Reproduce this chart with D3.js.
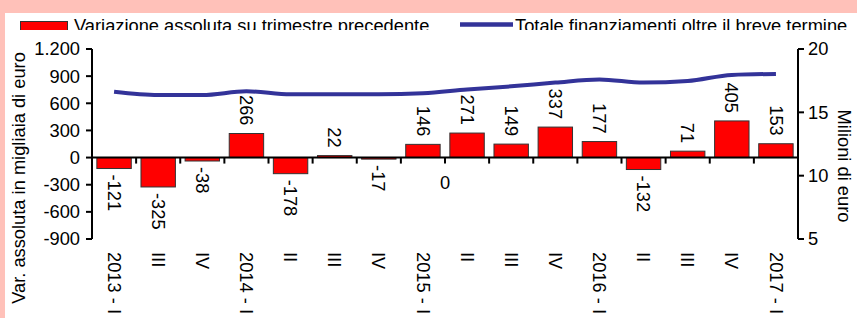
<!DOCTYPE html>
<html><head><meta charset="utf-8">
<script src="https://cdn.jsdelivr.net/npm/d3@7"></script>
<style>
html,body{margin:0;padding:0;background:#FFC1B9;}
svg{display:block;font-family:"Liberation Sans",Arial,sans-serif;}
</style></head>
<body>
<svg id="c" width="857" height="318"></svg>
<script>
const categories = ["2013 - I","III","IV","2014 - I","II","III","IV","2015 - I","II","III","IV","2016 - I","II","III","IV","2017 - I"];
const variazione = [-121,-325,-38,266,-178,22,-17,146,271,149,337,177,-132,71,405,153];
const totale = [16.63,16.37,16.37,16.66,16.42,16.42,16.42,16.5,16.8,17.05,17.35,17.6,17.35,17.47,17.95,18.03];
const leftTicks = [1200,900,600,300,0,-300,-600,-900];
const leftTickLabels = ["1.200","900","600","300","0","-300","-600","-900"];
const rightTicks = [20,15,10,5];
const extraLabels = [{after:8, text:"0"}];
const seriesNames = ["Variazione assoluta su trimestre precedente","Totale finanziamenti oltre il breve termine"];
const leftTitle = "Var. assoluta in migliaia di euro";
const rightTitle = "Milioni di euro";

const svg = d3.select("#c");
svg.append("rect").attr("x",5).attr("y",13).attr("width",852).attr("height",305).attr("fill","#fff");

const x0 = 92, x1 = 798;
const x = d3.scaleBand().domain(d3.range(categories.length)).range([x0,x1]).paddingInner(0.22).paddingOuter(0.11);
const yL = d3.scaleLinear().domain([-900,1200]).range([239,49]);
const yR = d3.scaleLinear().domain([5,20]).range([239,49]);
const fs = 18.3;

// bars
svg.append("g").selectAll("rect").data(variazione).join("rect")
  .attr("x",(d,i)=>x(i)).attr("width",x.bandwidth())
  .attr("y",d=>Math.min(yL(d),yL(0))).attr("height",d=>Math.abs(yL(d)-yL(0)))
  .attr("fill","#FF0000").attr("stroke","#333").attr("stroke-width",1);

// zero axis line
const step = (x1-x0)/categories.length;
svg.append("line").attr("x1",x0).attr("x2",x1).attr("y1",yL(0)).attr("y2",yL(0)).attr("stroke","#000").attr("stroke-width",2);
svg.append("g").selectAll("line").data(d3.range(1,categories.length)).join("line")
  .attr("x1",i=>x0+i*step).attr("x2",i=>x0+i*step).attr("y1",yL(0)).attr("y2",yL(0)+6)
  .attr("stroke","#000").attr("stroke-width",2);

// left axis
const gl = svg.append("g");
gl.append("line").attr("x1",x0).attr("x2",x0).attr("y1",yL(1200)).attr("y2",yL(-900)).attr("stroke","#000").attr("stroke-width",2);
leftTicks.forEach((t,i)=>{
  gl.append("line").attr("x1",x0-6).attr("x2",x0).attr("y1",yL(t)).attr("y2",yL(t)).attr("stroke","#000").attr("stroke-width",2);
  gl.append("text").attr("x",x0-12).attr("y",yL(t)).attr("dy","0.35em").attr("text-anchor","end").attr("font-size",fs).text(leftTickLabels[i]);
});
// right axis
const gr = svg.append("g");
gr.append("line").attr("x1",x1).attr("x2",x1).attr("y1",yR(20)).attr("y2",yR(5)).attr("stroke","#000").attr("stroke-width",2);
rightTicks.forEach(t=>{
  gr.append("line").attr("x1",x1).attr("x2",x1+6).attr("y1",yR(t)).attr("y2",yR(t)).attr("stroke","#000").attr("stroke-width",2);
  gr.append("text").attr("x",x1+10).attr("y",yR(t)).attr("dy","0.35em").attr("font-size",fs).text(t);
});

// line
const line = d3.line().x((d,i)=>x(i)+x.bandwidth()/2).y(d=>yR(d)).curve(d3.curveMonotoneX);
svg.append("path").datum(totale).attr("d",line).attr("fill","none").attr("stroke","#333399").attr("stroke-width",4);

// bar labels
svg.append("g").selectAll("text").data(variazione).join("text")
  .attr("transform",(d,i)=>{
    const cx = x(i)+x.bandwidth()/2;
    const yy = d>=0 ? yL(d)-8 : yL(d)+6;
    return `translate(${cx},${yy}) rotate(90)`;
  })
  .attr("text-anchor",d=>d>=0?"end":"start").attr("dy","0.35em").attr("font-size",fs).text(d=>d);

extraLabels.forEach(e=>{
  svg.append("text").attr("x",x0+e.after*step).attr("y",yL(0)+25).attr("dy","0.35em").attr("text-anchor","middle").attr("font-size",fs).text(e.text);
});

// category labels
svg.append("g").selectAll("text").data(categories).join("text")
  .attr("transform",(d,i)=>`translate(${x(i)+x.bandwidth()/2},252) rotate(90)`)
  .attr("dy","0.35em").attr("font-size",fs).text(d=>d);

// axis titles
svg.append("text").attr("transform","translate(19,178) rotate(-90)").attr("dy","0.35em").attr("text-anchor","middle").attr("font-size",fs).text(leftTitle);
svg.append("text").attr("transform","translate(844,166) rotate(90)").attr("dy","0.35em").attr("text-anchor","middle").attr("font-size",fs).text(rightTitle);

// legend (clipped like the reference)
const defs = svg.append("defs");
defs.append("clipPath").attr("id","lc").append("rect").attr("x",0).attr("y",13).attr("width",857).attr("height",17);
const lg = svg.append("g").attr("clip-path","url(#lc)");
lg.append("rect").attr("x",20.5).attr("y",21.5).attr("width",47).attr("height",14).attr("fill","#FF0000").attr("stroke","#333").attr("stroke-width",1);
lg.append("text").attr("x",74).attr("y",32).attr("font-size",fs).text(seriesNames[0]);
lg.append("line").attr("x1",460).attr("x2",513).attr("y1",24.5).attr("y2",24.5).attr("stroke","#333399").attr("stroke-width",4.5);
lg.append("text").attr("x",515).attr("y",32).attr("font-size",fs).text(seriesNames[1]);
</script>
</body></html>
